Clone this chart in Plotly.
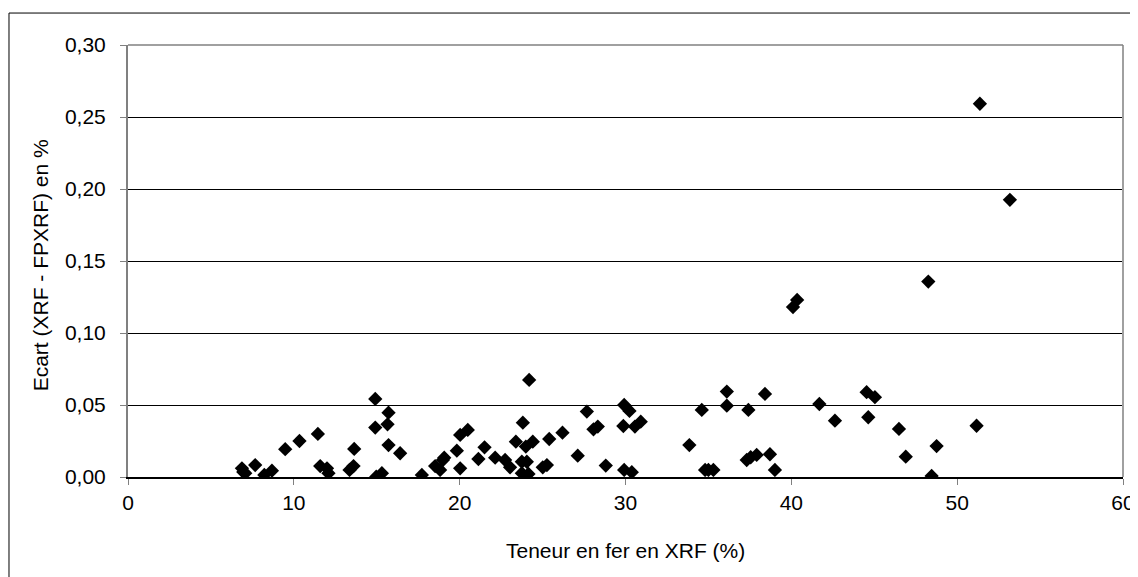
import plotly.graph_objects as go

# Teneur en fer en XRF (%)
teneur_fe = [
    6.87, 7.07, 6.95, 7.67, 8.22, 8.68, 9.48, 10.34, 11.45, 11.59, 12.00, 12.09,
    13.64, 13.60, 13.36, 14.91, 14.91, 14.97,
    15.71, 15.65, 15.71, 16.41, 15.31, 17.72, 18.52, 18.82, 19.07, 18.99, 19.83,
    20.03, 20.03, 20.49, 21.50, 21.13, 22.14, 22.74, 23.04, 23.39, 23.81, 24.19,
    23.99, 24.41, 23.75, 24.05, 23.75, 24.15, 25.01, 25.26, 25.40, 26.20, 27.12,
    27.67, 28.07, 28.33, 28.81,
    29.92, 30.24, 29.87, 30.57, 30.92, 29.92, 30.38, 33.85, 34.60, 34.80, 35.00,
    35.30, 36.11, 36.11, 37.41, 37.31, 37.55, 37.91, 38.41, 38.71, 39.01,
    40.10, 40.35, 41.69, 42.63, 44.54, 45.04, 44.64,
    51.37, 53.18, 48.26, 46.49, 48.76, 46.90, 48.46, 51.17,
]

# Ecart (XRF - FPXRF) en %
ecart = [
    0.0060, 0.0026, 0.0035, 0.0083, 0.0014, 0.0044, 0.0193, 0.0250, 0.0299, 0.0076, 0.0060, 0.0026,
    0.0195, 0.0076, 0.0049, 0.0542, 0.0343, 0.0002,
    0.0447, 0.0366, 0.0222, 0.0165, 0.0026, 0.0014, 0.0076, 0.0049, 0.0134, 0.0118, 0.0183,
    0.0060, 0.0292, 0.0327, 0.0206, 0.0125, 0.0134, 0.0118, 0.0067, 0.0245, 0.0377, 0.0674,
    0.0211, 0.0245, 0.0106, 0.0106, 0.0026, 0.0021, 0.0067, 0.0083, 0.0264, 0.0308, 0.0148,
    0.0454, 0.0331, 0.0350, 0.0079,
    0.0500, 0.0459, 0.0354, 0.0350, 0.0384, 0.0049, 0.0033, 0.0222, 0.0466, 0.0049, 0.0049,
    0.0049, 0.0593, 0.0495, 0.0466, 0.0118, 0.0137, 0.0153, 0.0577, 0.0158, 0.0049,
    0.1180, 0.1230, 0.0507, 0.0391, 0.0589, 0.0554, 0.0415,
    0.2592, 0.1925, 0.1357, 0.0334, 0.0215, 0.0141, 0.0007, 0.0356,
]

x_ticks = [0, 10, 20, 30, 40, 50, 60]
y_ticks = [0.00, 0.05, 0.10, 0.15, 0.20, 0.25, 0.30]

x_title = "Teneur en fer en XRF (%)"
y_title = "Ecart (XRF - FPXRF) en %"

fig = go.Figure(
    go.Scatter(
        x=teneur_fe, y=ecart, mode="markers",
        marker=dict(symbol="diamond", size=11, color="black", line=dict(width=0)),
        showlegend=False,
    )
)

tick_font = dict(family="Liberation Sans, Arial, sans-serif", size=21, color="black")
title_font = dict(family="Liberation Sans, Arial, sans-serif", size=21, color="black")

fig.update_layout(
    width=1130, height=569,
    margin=dict(l=120, r=15, t=37, b=100, autoexpand=False),
    paper_bgcolor="white", plot_bgcolor="white",
    separators=", ",
    font=tick_font,
    xaxis=dict(
        range=[0, 60], tickvals=x_ticks, ticks="outside", ticklen=6, tickcolor="#808080",
        showgrid=False, zeroline=False, showline=True, linecolor="black", linewidth=1.5,
        tickfont=tick_font, automargin=False, ticklabelstandoff=0,
        ticklabeloverflow="allow",
    ),
    yaxis=dict(
        range=[0, 0.30], tickvals=y_ticks, tickformat=".2f", ticks="outside", ticklen=6,
        tickcolor="#808080",
        showgrid=True, gridcolor="black", gridwidth=1, zeroline=False,
        showline=True, linecolor="#808080", linewidth=2, tickfont=tick_font,
        automargin=False, ticklabelstandoff=10,
    ),
    annotations=[
        dict(text=x_title, xref="paper", yref="paper", x=0.5, y=-0.169,
             xanchor="center", yanchor="middle", showarrow=False, font=title_font),
        dict(text=y_title, xref="paper", yref="paper", x=-0.0884, y=0.49,
             xanchor="center", yanchor="middle", textangle=-90, showarrow=False,
             font=title_font),
    ],
    shapes=[
        dict(type="line", xref="paper", yref="paper", x0=1, x1=1, y0=0, y1=1,
             line=dict(color="#a0a0a0", width=2)),
        dict(type="line", xref="paper", yref="paper", x0=0, x1=1, y0=1, y1=1,
             line=dict(color="#808080", width=1.5)),
        dict(type="rect", xref="paper", yref="paper", x0=-0.1196, x1=1.03, y0=-0.3, y1=1.074,
             line=dict(color="black", width=1), layer="below"),
    ],
)

fig.write_html("out.html")
